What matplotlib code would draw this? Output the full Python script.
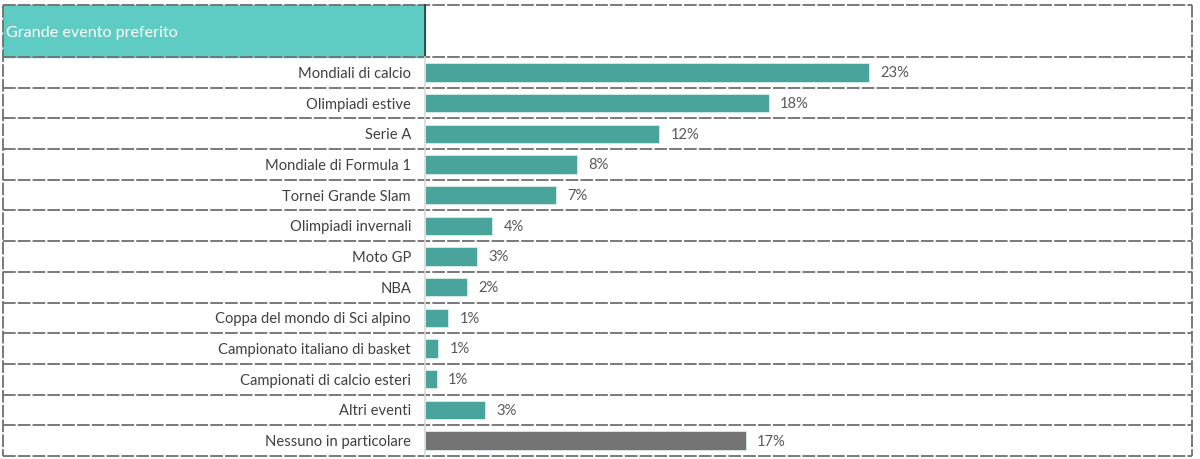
import matplotlib.pyplot as plt
from matplotlib.lines import Line2D
from matplotlib.patches import Rectangle

plt.rcParams['font.family'] = ['Lato', 'DejaVu Sans']

# dati (percentuali)
eventi = [
    "Mondiali di calcio",
    "Olimpiadi estive",
    "Serie A",
    "Mondiale di Formula 1",
    "Tornei Grande Slam",
    "Olimpiadi invernali",
    "Moto GP",
    "NBA",
    "Coppa del mondo di Sci alpino",
    "Campionato italiano di basket",
    "Campionati di calcio esteri",
    "Altri eventi",
    "Nessuno in particolare",
]
valori = [23.1, 17.9, 12.2, 7.9, 6.8, 3.5, 2.7, 2.2, 1.2, 0.7, 0.6, 3.1, 16.7]
titolo = "Grande evento preferito"

TEAL = "#49a59c"
HEADER = "#5fccc3"
GRIGIO = "#737373"
TESTO = "#404040"

W, H = 1200, 459
fig = plt.figure(figsize=(W / 100, H / 100), dpi=100)

# sfondo "tabella" in coordinate pixel
bg = fig.add_axes([0, 0, 1, 1])
bg.set_xlim(0, W)
bg.set_ylim(H, 0)
bg.axis("off")

x0, x1, xs = 3, 1192, 425
y_top, y_head, y_bot = 5, 57, 456
n = len(eventi)
riga = (y_bot - y_head) / n

bg.add_patch(Rectangle((x0, y_top), xs - x0, y_head - y_top, color=HEADER, zorder=0))
bg.text(x0 + 3, (y_top + y_head) / 2 + 2, titolo, color="white", fontsize=11.6,
        va="center", ha="left")

dash = dict(color="#707070", lw=1.3, ls=(0, (7, 1.2)))
for y in [y_top, y_head] + [y_head + riga * (i + 1) for i in range(n)]:
    bg.add_line(Line2D([x0, x1], [y, y], **dash))
bg.add_line(Line2D([x0, x0], [y_top, y_bot], **dash))
bg.add_line(Line2D([x1, x1], [y_top, y_bot], **dash))
bg.add_line(Line2D([xs, xs], [y_top, y_head], color="#333333", lw=1.2))
bg.add_line(Line2D([xs, xs], [y_head, y_bot], color="#d9d9d9", lw=1.2))

# barre
ax = fig.add_axes([xs / W, (H - y_bot) / H, (x1 - xs) / W, (y_bot - y_head) / H])
ax.patch.set_alpha(0)
pos = list(range(n))
colori = [TEAL] * (n - 1) + [GRIGIO]
ax.barh(pos, valori, height=0.6, color=colori, edgecolor="#d8efec", linewidth=0.6)
ax.set_xlim(0, (x1 - xs) / 19.2)
ax.set_ylim(n - 0.5, -0.5)
ax.set_yticks(pos)
ax.set_yticklabels(eventi, fontsize=10.6, color=TESTO)
ax.tick_params(axis="y", length=0, pad=10)
ax.set_xticks([])
for s in ax.spines.values():
    s.set_visible(False)
for p, v in zip(pos, valori):
    ax.text(v + 0.6, p + 0.03, f"{v:.0f}%", va="center", ha="left", fontsize=10.6, color="#595959")

fig.savefig("out.png", dpi=100)
